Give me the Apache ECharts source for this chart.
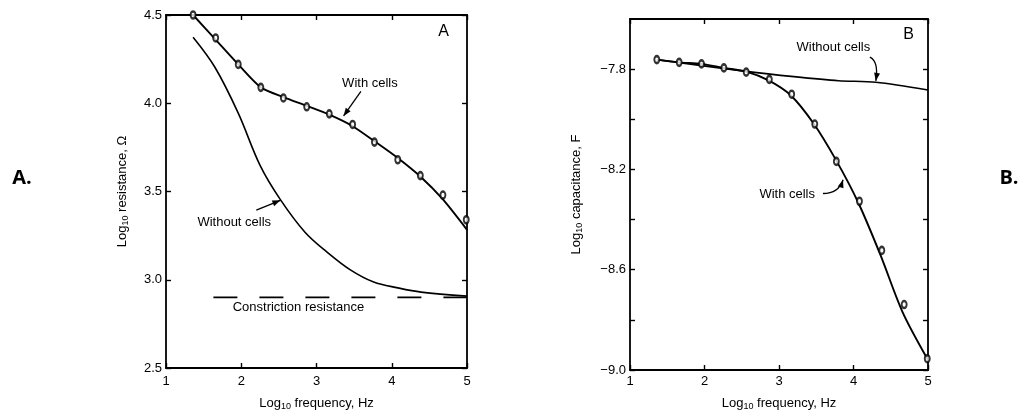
<!DOCTYPE html>
<html>
<head>
<meta charset="utf-8">
<script src="https://cdn.jsdelivr.net/npm/echarts@6/dist/echarts.min.js"></script>
<style>html,body{margin:0;padding:0;background:#fff}#c{width:1022px;height:416px}</style>
</head>
<body>
<div id="c"></div>
<script>
// ---- data ----
const xTicks = [1, 2, 3, 4, 5];
const resTicks = [2.5, 3.0, 3.5, 4.0, 4.5];
const capTicks = [-9.0, -8.6, -8.2, -7.8];

// Panel A: log10 resistance
const freqPts = [1.36, 1.66, 1.96, 2.26, 2.56, 2.87, 3.17, 3.48, 3.77, 4.08, 4.38, 4.68, 4.99];
const resWithPts = [4.50, 4.37, 4.22, 4.09, 4.03, 3.98, 3.94, 3.88, 3.78, 3.68, 3.59, 3.48, 3.34];
const resWithLineX = [1.36, 1.66, 1.96, 2.26, 2.56, 2.87, 3.17, 3.48, 3.77, 4.08, 4.38, 4.68, 5.0];
const resWithLineY = [4.50, 4.36, 4.22, 4.09, 4.035, 3.985, 3.935, 3.87, 3.785, 3.69, 3.585, 3.455, 3.283];
const resWithoutX = [1.36, 1.65, 1.96, 2.25, 2.52, 2.85, 3.14, 3.45, 3.76, 4.08, 4.39, 5.0];
const resWithoutY = [4.374, 4.204, 3.944, 3.648, 3.454, 3.268, 3.157, 3.056, 2.987, 2.954, 2.93, 2.907];
const constrictionX = [1.63, 5.0];
const constrictionY = [2.9, 2.9];

// Panel B: log10 capacitance
const capWithPts = [-7.762, -7.773, -7.779, -7.795, -7.812, -7.841, -7.900, -8.019, -8.168, -8.327, -8.523, -8.739, -8.955];
const capWithLineX = [1.36, 1.66, 1.96, 2.26, 2.56, 2.86, 3.16, 3.46, 3.76, 4.06, 4.36, 4.66, 5.0];
const capWithLineY = [-7.762, -7.773, -7.779, -7.795, -7.81, -7.845, -7.905, -8.015, -8.16, -8.33, -8.54, -8.77, -8.96];
const capWithoutX = [1.36, 2.56, 3.2, 3.8, 4.3, 5.0];
const capWithoutY = [-7.762, -7.809, -7.83, -7.846, -7.852, -7.883];

// ---- helpers ----
const zip = (xs, ys) => xs.map((x, i) => [x, ys[i]]);
const FONT = '"Liberation Sans", Arial, sans-serif';
const INK = '#000';
const tickLabelStyle = { fontFamily: FONT, fontSize: 13, color: INK };
const nameStyle = {
  fontFamily: FONT, fontSize: 13, color: INK, lineHeight: 16,
  rich: { s: { fontFamily: FONT, fontSize: 9, color: INK, lineHeight: 9, verticalAlign: 'bottom' } }
};
const lineAx = { show: true, lineStyle: { color: INK, width: 1.8 } };
const tickIn = { show: true, inside: true, length: 5, lineStyle: { color: INK, width: 1.4 } };
const minus = v => (v < 0 ? '\u2212' : '') + Math.abs(v).toFixed(1);
const markerStyle = { color: '#fff', borderColor: INK, borderWidth: 2.2 };

const chart = echarts.init(document.getElementById('c'), null, { renderer: 'canvas' });

const option = {
  backgroundColor: '#fff',
  animation: false,
  grid: [
    { left: 166, right: 555, top: 15, bottom: 41 },
    { left: 630, right: 94, top: 19, bottom: 38 }
  ],
  xAxis: [
    { gridIndex: 0, type: 'value', min: xTicks[0], max: xTicks[xTicks.length - 1], interval: 1,
      axisLine: lineAx, axisTick: tickIn, splitLine: { show: false },
      axisLabel: { ...tickLabelStyle, margin: 7, formatter: v => String(v) },
      name: 'Log{s|10} frequency, Hz', nameLocation: 'middle', nameGap: 27, nameTextStyle: nameStyle },
    { gridIndex: 0, type: 'value', position: 'top', min: 1, max: 5, interval: 1,
      axisLine: lineAx, axisTick: tickIn, axisLabel: { show: false }, splitLine: { show: false } },
    { gridIndex: 1, type: 'value', min: xTicks[0], max: xTicks[xTicks.length - 1], interval: 1,
      axisLine: lineAx, axisTick: tickIn, splitLine: { show: false },
      axisLabel: { ...tickLabelStyle, margin: 5, formatter: v => String(v) },
      name: 'Log{s|10} frequency, Hz', nameLocation: 'middle', nameGap: 25, nameTextStyle: nameStyle },
    { gridIndex: 1, type: 'value', position: 'top', min: 1, max: 5, interval: 1,
      axisLine: lineAx, axisTick: tickIn, axisLabel: { show: false }, splitLine: { show: false } }
  ],
  yAxis: [
    { gridIndex: 0, type: 'value', min: resTicks[0], max: resTicks[resTicks.length - 1], interval: 0.5,
      axisLine: lineAx, axisTick: tickIn, splitLine: { show: false },
      axisLabel: { ...tickLabelStyle, margin: 4, formatter: v => v.toFixed(1) },
      name: 'Log{s|10} resistance, \u03A9', nameLocation: 'middle', nameGap: 36, nameRotate: 90, nameTextStyle: nameStyle },
    { gridIndex: 0, type: 'value', position: 'right', min: 2.5, max: 4.5, interval: 0.5,
      axisLine: lineAx, axisTick: tickIn, axisLabel: { show: false }, splitLine: { show: false } },
    { gridIndex: 1, type: 'value', min: -9.0, max: -7.6, interval: 0.2,
      axisLine: lineAx, axisTick: tickIn, splitLine: { show: false },
      axisLabel: { ...tickLabelStyle, margin: 4, showMaxLabel: false,
        formatter: v => capTicks.some(t => Math.abs(t - v) < 1e-6) ? minus(v) : '' },
      name: 'Log{s|10} capacitance, F', nameLocation: 'middle', nameGap: 46, nameRotate: 90, nameTextStyle: nameStyle },
    { gridIndex: 1, type: 'value', position: 'right', min: -9.0, max: -7.6, interval: 0.2,
      axisLine: lineAx, axisTick: tickIn, axisLabel: { show: false }, splitLine: { show: false } }
  ],
  series: [
    // Panel A
    { name: 'A with cells (fit)', type: 'line', xAxisIndex: 0, yAxisIndex: 0, smooth: 0.25, showSymbol: false,
      data: zip(resWithLineX, resWithLineY), lineStyle: { color: INK, width: 1.9 }, z: 2 },
    { name: 'A without cells', type: 'line', xAxisIndex: 0, yAxisIndex: 0, smooth: 0.35, showSymbol: false,
      data: zip(resWithoutX, resWithoutY), lineStyle: { color: INK, width: 1.6 } },
    { name: 'Constriction resistance', type: 'line', xAxisIndex: 0, yAxisIndex: 0, showSymbol: false,
      data: zip(constrictionX, constrictionY), lineStyle: { color: INK, width: 1.6, type: [24, 22] } },
    { name: 'A with cells (data)', type: 'scatter', xAxisIndex: 0, yAxisIndex: 0,
      data: zip(freqPts, resWithPts), symbol: 'circle', symbolSize: [5, 7],
      itemStyle: markerStyle, z: 3 },
    // Panel B
    { name: 'B with cells (fit)', type: 'line', xAxisIndex: 2, yAxisIndex: 2, smooth: 0.3, showSymbol: false,
      data: zip(capWithLineX, capWithLineY), lineStyle: { color: INK, width: 1.9 }, z: 2 },
    { name: 'B without cells', type: 'line', xAxisIndex: 2, yAxisIndex: 2, smooth: 0.3, showSymbol: false,
      data: zip(capWithoutX, capWithoutY), lineStyle: { color: INK, width: 1.6 } },
    { name: 'B with cells (data)', type: 'scatter', xAxisIndex: 2, yAxisIndex: 2,
      data: zip(freqPts, capWithPts), symbol: 'circle', symbolSize: [5, 7],
      itemStyle: markerStyle, z: 3 }
  ]
};
chart.setOption(option);

// ---- annotations placed at data coordinates ----
const annA = [
  { t: 'With cells', at: [3.71, 4.11] },
  { t: 'Without cells', at: [1.907, 3.322] },
  { t: 'Constriction resistance', at: [2.76, 2.844] },
  { t: 'A', at: [4.69, 4.406], size: 16 }
];
const annB = [
  { t: 'Without cells', at: [3.73, -7.714] },
  { t: 'With cells', at: [3.11, -8.30] },
  { t: 'B', at: [4.74, -7.663], size: 16 }
];
// arrows: [start, control, end] in data coordinates
const arrowsA = [
  [[3.59, 4.067], null, [3.36, 3.928]],
  [[2.20, 3.394], null, [2.52, 3.45]]
];
const arrowsB = [
  [[4.22, -7.752], [4.34, -7.769], [4.30, -7.847]],
  [[3.59, -8.296], [3.80, -8.296], [3.86, -8.241]]
];
const gfx = [];
function addAnn(list, gi) {
  list.forEach(a => {
    const p = chart.convertToPixel({ gridIndex: gi }, a.at);
    gfx.push({ type: 'text', x: p[0], y: p[1], silent: true,
      style: { text: a.t, fill: INK, font: (a.size || 13) + 'px ' + FONT, textAlign: 'center', textVerticalAlign: 'middle' } });
  });
}
function addArrows(list, gi) {
  list.forEach(a => {
    const s = chart.convertToPixel({ gridIndex: gi }, a[0]);
    const e = chart.convertToPixel({ gridIndex: gi }, a[2]);
    const c = a[1] ? chart.convertToPixel({ gridIndex: gi }, a[1]) : [(s[0] + e[0]) / 2, (s[1] + e[1]) / 2];
    gfx.push({ type: 'bezierCurve', silent: true,
      shape: { x1: s[0], y1: s[1], x2: e[0], y2: e[1], cpx1: c[0], cpy1: c[1] },
      style: { stroke: INK, lineWidth: 1.3, fill: null } });
    const dx = e[0] - c[0], dy = e[1] - c[1];
    const L = Math.hypot(dx, dy) || 1;
    const ux = dx / L, uy = dy / L, len = 8, w = 3;
    const bx = e[0] - ux * len, by = e[1] - uy * len;
    gfx.push({ type: 'polygon', silent: true,
      shape: { points: [[e[0], e[1]], [bx - uy * w, by + ux * w], [bx + uy * w, by - ux * w]] },
      style: { fill: INK } });
  });
}
addAnn(annA, 0);
addAnn(annB, 1);
addArrows(arrowsA, 0);
addArrows(arrowsB, 1);
gfx.push({ type: 'text', x: 22, y: 178, style: { text: 'A.', fill: '#000', font: 'bold 20px "Open Sans", "Liberation Sans", sans-serif', textAlign: 'center', textVerticalAlign: 'middle' } });
gfx.push({ type: 'text', x: 1009, y: 178, style: { text: 'B.', fill: '#000', font: 'bold 20px "Open Sans", "Liberation Sans", sans-serif', textAlign: 'center', textVerticalAlign: 'middle' } });
chart.setOption({ graphic: gfx });
</script>
</body>
</html>
